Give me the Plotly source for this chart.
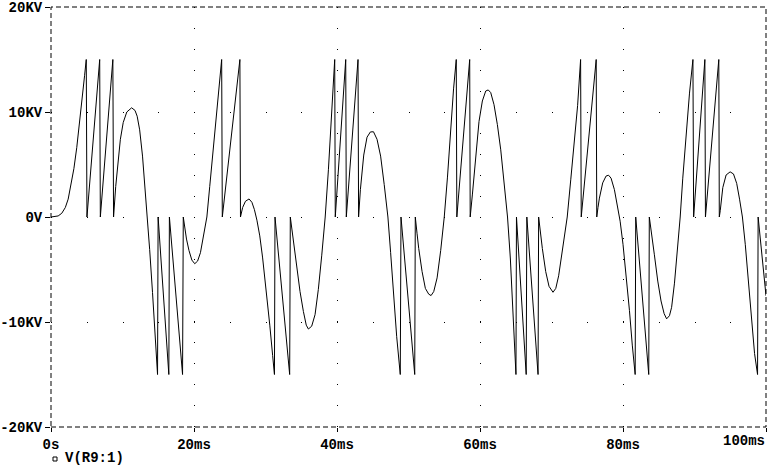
import plotly.graph_objects as go

# ---- data (time in ms, voltage in kV) ----
time_ms = [
    0, 1.0, 1.5, 2.0, 2.4, 2.8, 3.2, 3.6, 4.0, 4.4, 4.7, 4.93,
    5.03, 6.81, 6.9, 8.65, 8.75,
    9.05, 9.35, 9.7, 10.1, 10.6, 11.28, 11.75, 12.05, 12.4, 12.8, 13.1, 13.45,
    13.8, 14.2, 14.55, 14.9,
    14.98, 16.48, 16.56, 18.4, 18.5,
    18.7, 18.95, 19.3, 19.7, 20.1, 20.5, 20.9, 21.3, 21.8, 22.2, 22.65, 23.1, 23.5, 23.87,
    23.96, 25.2, 26.42, 26.5,
    26.8, 27.2, 27.7, 28.1, 28.45, 28.8, 29.2, 29.6, 30.1, 30.6, 31.0, 31.25,
    31.33, 33.38, 33.47,
    33.9, 34.36, 34.83, 35.3, 35.7, 36.0, 36.46, 36.93, 37.39, 37.86, 38.35, 38.8, 39.25, 39.68,
    39.76, 41.22, 41.3, 42.94, 43.02,
    43.27, 43.74, 44.2, 44.67, 45.1, 45.6, 46.1, 46.6, 47.12, 47.5, 47.9, 48.35, 48.85,
    48.95, 50.87, 50.95,
    51.2, 51.43, 51.9, 52.36, 52.83, 53.16, 53.53, 54.0, 54.5, 55.0, 55.45, 55.9, 56.3, 56.68,
    56.76, 58.56, 58.63,
    58.93, 59.4, 59.86, 60.33, 60.8, 61.15, 61.5, 61.96, 62.43, 62.9, 63.4, 63.85, 64.25, 64.65, 65.03,
    65.1, 66.46, 66.55, 68.12, 68.2,
    68.35, 68.72, 69.19, 69.65, 70.21, 70.6, 71.0, 71.4, 71.8, 72.2, 72.7, 73.2, 73.65, 74.07,
    74.16, 76.25, 76.33,
    76.5, 76.7, 77.16, 77.63, 77.98, 78.33, 78.8, 79.3, 79.6, 80.0, 80.45, 80.9, 81.3, 81.7,
    81.78, 83.6, 83.68,
    83.83, 84.39, 84.86, 85.32, 85.75, 86.1, 86.5, 86.8, 87.2, 87.6, 88.0, 88.36, 88.83, 89.3, 89.78,
    89.88, 91.45, 91.53, 93.4, 93.47,
    93.6, 93.96, 94.42, 94.98, 95.45, 95.9, 96.3, 96.7, 97.1, 97.5, 97.95, 98.4, 98.82,
    98.9, 100.0,
]
v_kv = [
    0, 0.1, 0.35, 0.9, 1.7, 3.0, 4.6, 6.6, 8.9, 11.4, 13.5, 15.0,
    0, 15.0, 0, 15.0, 0,
    2.9, 5.3, 7.4, 9.0, 10.0, 10.4, 10.15, 9.6, 8.3, 5.8, 3.3, 0,
    -3.1, -7.2, -11.0, -15.0,
    0, -15.0, 0, -15.0, 0,
    -1.0, -2.1, -3.2, -4.1, -4.45, -4.2, -3.4, -2.0, 0, 2.9, 6.3, 9.7, 12.6, 15.0,
    0, 7.9, 15.0, 0,
    0.9, 1.5, 1.72, 1.4, 0.7, -0.3, -1.8, -3.9, -6.9, -10.3, -13.2, -15.0,
    0, -15.0, 0,
    -2.3, -4.9, -7.1, -9.0, -10.3, -10.67, -10.4, -9.3, -6.9, -3.7, 0, 4.5, 9.6, 15.0,
    0, 15.0, 0, 15.0, 0,
    2.6, 5.9, 7.6, 8.1, 8.12, 7.4, 5.8, 3.1, 0, -3.4, -7.3, -11.4, -15.0,
    0, -15.0, 0,
    -1.6, -3.0, -5.2, -6.8, -7.35, -7.48, -7.1, -5.8, -3.2, 0, 3.8, 8.3, 12.2, 15.0,
    0, 15.0, 0,
    2.1, 6.0, 9.1, 11.05, 12.0, 12.1, 11.85, 10.7, 8.8, 6.4, 3.3, 0, -4.0, -9.5, -15.0,
    0, -15.0, 0, -15.0, 0,
    -1.05, -3.0, -5.2, -6.6, -7.17, -6.8, -5.6, -3.7, -1.6, 0, 3.6, 7.1, 10.6, 15.0,
    0, 15.0, 0,
    0.9, 1.8, 3.25, 3.9, 3.98, 3.7, 2.6, 0.9, -0.4, -2.6, -5.6, -8.9, -12.2, -15.0,
    0, -15.0, 0,
    -0.7, -3.6, -6.1, -8.0, -9.2, -9.7, -9.4, -8.6, -6.3, -3.3, 0, 3.7, 8.0, 11.8, 15.0,
    0, 15.0, 0, 15.0, 0,
    0.6, 2.8, 4.0, 4.3, 4.1, 3.2, 1.7, 0, -2.6, -5.9, -9.6, -13.0, -15.0,
    0, -7.5,
]

x_tick_vals = [0, 20, 40, 60, 80, 100]
x_tick_text = ["0s", "20ms", "40ms", "60ms", "80ms", "100ms"]
y_tick_vals = [-20, -10, 0, 10, 20]
y_tick_text = ["-20KV", "-10KV", "0V", "10KV", "20KV"]
trace_name = "V(R9:1)"

W, H = 770, 467
ML, MR, MT, MB = 51, 4, 7, 40
PW, PH = W - ML - MR, H - MT - MB
LABEL_Y = 441  # pixel row of x tick label centres

font = dict(family="Liberation Mono, DejaVu Sans Mono, monospace", size=14,
            color="black", weight="bold")

fig = go.Figure()
fig.add_trace(go.Scatter(x=time_ms, y=v_kv, mode="lines", name=trace_name,
                         line=dict(color="black", width=1), showlegend=False))

fig.update_layout(
    width=W, height=H,
    margin=dict(l=ML, r=MR, t=MT, b=MB, autoexpand=False),
    plot_bgcolor="white", paper_bgcolor="white",
    showlegend=False,
)
# the last x label sits flush with the right edge (as in the reference),
# so it is drawn as a right-anchored annotation instead of a centred tick label
fig.update_xaxes(
    range=[0, 100], tickvals=x_tick_vals,
    ticktext=x_tick_text[:-1] + [""],
    ticks="outside", ticklen=4, tickcolor="black", tickwidth=1,
    showgrid=True, gridcolor="black", gridwidth=1, griddash="1px,19.96px",
    zeroline=False, showline=False, tickfont=font, fixedrange=True,
    automargin=False,
)
fig.update_yaxes(
    range=[-20, 20], tickvals=y_tick_vals, ticktext=y_tick_text,
    ticks="outside", ticklen=5, tickcolor="black", tickwidth=1,
    showgrid=True, gridcolor="black", gridwidth=1, griddash="1px,34.75px",
    zeroline=False, showline=False, tickfont=font, fixedrange=True,
    automargin=False, ticklabeloverflow="allow",
)
fig.add_annotation(text=x_tick_text[-1], xref="paper", yref="paper",
                   x=1.0, y=(MT + PH - LABEL_Y) / PH,
                   xanchor="right", yanchor="middle", showarrow=False,
                   font=font, xshift=1)

# dashed frame
fig.add_shape(type="rect", xref="paper", yref="paper", x0=0, y0=0, x1=1, y1=1,
              line=dict(color="black", width=1, dash="5px,3px"), layer="above")

# legend: small square + trace name
sq_cx, sq_cy = 55, 459
fig.add_shape(type="rect", xref="paper", yref="paper",
              x0=(sq_cx - 2 - ML) / PW, x1=(sq_cx + 2 - ML) / PW,
              y0=(MT + PH - (sq_cy + 2)) / PH, y1=(MT + PH - (sq_cy - 2)) / PH,
              line=dict(color="black", width=1), fillcolor="white", layer="above")
fig.add_annotation(text=trace_name, xref="paper", yref="paper",
                   x=(63 - ML) / PW, y=(MT + PH - 458) / PH,
                   xanchor="left", yanchor="middle", showarrow=False, font=font)

fig.write_html(
    "out.html",
    config={"displayModeBar": False},
    post_script="document.body.style.margin='0px';document.body.style.overflow='hidden';",
)
